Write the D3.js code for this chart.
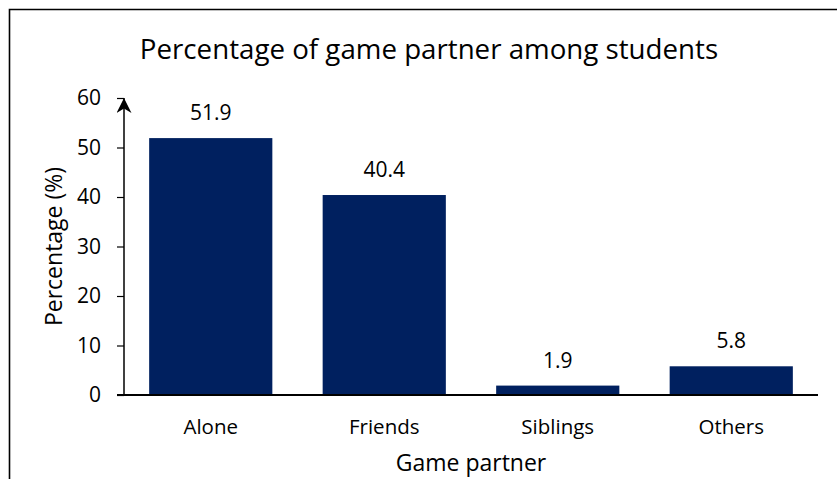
<!DOCTYPE html>
<html>
<head>
<meta charset="utf-8">
<script src="https://cdn.jsdelivr.net/npm/d3@7"></script>
<style>
  html, body { margin: 0; padding: 0; background: #fff; }
  svg { display: block; }
  text { font-family: "Open Sans", "Noto Sans", sans-serif; fill: #000; }
</style>
</head>
<body>
<svg id="chart" width="837" height="479"></svg>
<script>
// Game partner shares (%)
const categories = ["Alone", "Friends", "Siblings", "Others"];
const percentages = [51.9, 40.4, 1.9, 5.8];
const yTicks = [0, 10, 20, 30, 40, 50, 60];

const titleText = "Percentage of game partner among students";
const xTitle = "Game partner";
const yTitle = "Percentage (%)";

const svg = d3.select("#chart");
const W = 837, H = 479;
const plot = { left: 124, right: 818, top: 98, bottom: 395 };
const barColor = "#00205f";

// outer frame: top and left edges
svg.append("path")
  .attr("d", `M9.5,${H} L9.5,9.5 L${W},9.5`)
  .attr("fill", "none")
  .attr("stroke", "#000")
  .attr("stroke-width", 1.6);

const x = d3.scaleBand()
  .domain(categories)
  .range([plot.left, plot.right])
  .paddingInner(0.29)
  .paddingOuter(0.145);

const y = d3.scaleLinear()
  .domain([0, 60])
  .range([plot.bottom, plot.top]);

// bars
svg.append("g")
  .selectAll("rect")
  .data(categories)
  .join("rect")
  .attr("x", d => x(d))
  .attr("width", x.bandwidth())
  .attr("y", (d, i) => y(percentages[i]))
  .attr("height", (d, i) => y(0) - y(percentages[i]))
  .attr("fill", barColor);

// value labels
svg.append("g")
  .selectAll("text")
  .data(categories)
  .join("text")
  .attr("x", d => x(d) + x.bandwidth() / 2)
  .attr("y", (d, i) => y(percentages[i]) - 18)
  .attr("text-anchor", "middle")
  .style("font-size", "21px")
  .text((d, i) => percentages[i].toFixed(1));

// arrow head for the y axis (tip along the line direction)
svg.append("defs").append("marker")
  .attr("id", "arrow")
  .attr("viewBox", "0 0 10 10")
  .attr("refX", 10).attr("refY", 5)
  .attr("markerWidth", 15).attr("markerHeight", 15)
  .attr("markerUnits", "userSpaceOnUse")
  .attr("orient", "auto")
  .append("path")
  .attr("d", "M10,5 L0,0 L3,5 L0,10 Z")
  .attr("fill", "#000");

const yAxis = svg.append("g")
  .attr("transform", `translate(${plot.left},0)`)
  .call(d3.axisLeft(y).tickValues(yTicks).tickSize(7).tickSizeOuter(0).tickPadding(16));
yAxis.select(".domain").remove();
yAxis.selectAll(".tick line").attr("stroke", "#000").attr("stroke-width", 1.2);
yAxis.selectAll(".tick text")
  .style("font-size", "21px")
  .style("font-family", "'Open Sans', sans-serif")
  .attr("fill", "#000");

svg.append("line")
  .attr("x1", plot.left).attr("x2", plot.left)
  .attr("y1", y(0)).attr("y2", y(60))
  .attr("stroke", "#000")
  .attr("stroke-width", 1.5)
  .attr("marker-end", "url(#arrow)");

// x axis
const xAxis = svg.append("g")
  .attr("transform", `translate(0,${y(0)})`)
  .call(d3.axisBottom(x).tickSize(0).tickPadding(24));
xAxis.select(".domain").remove();
xAxis.selectAll(".tick text")
  .style("font-size", "20.5px")
  .style("font-family", "'Open Sans', sans-serif")
  .attr("fill", "#000");

svg.append("line")
  .attr("x1", plot.left - 7).attr("x2", plot.right)
  .attr("y1", y(0)).attr("y2", y(0))
  .attr("stroke", "#000")
  .attr("stroke-width", 2);

// titles
svg.append("text")
  .attr("x", 429).attr("y", 59)
  .attr("text-anchor", "middle")
  .style("font-size", "27.7px")
  .text(titleText);

svg.append("text")
  .attr("x", (plot.left + plot.right) / 2).attr("y", 471)
  .attr("text-anchor", "middle")
  .style("font-size", "23px")
  .text(xTitle);

svg.append("text")
  .attr("transform", `translate(62,${(plot.top + plot.bottom) / 2}) rotate(-90)`)
  .attr("text-anchor", "middle")
  .style("font-size", "23px")
  .text(yTitle);
</script>
</body>
</html>
